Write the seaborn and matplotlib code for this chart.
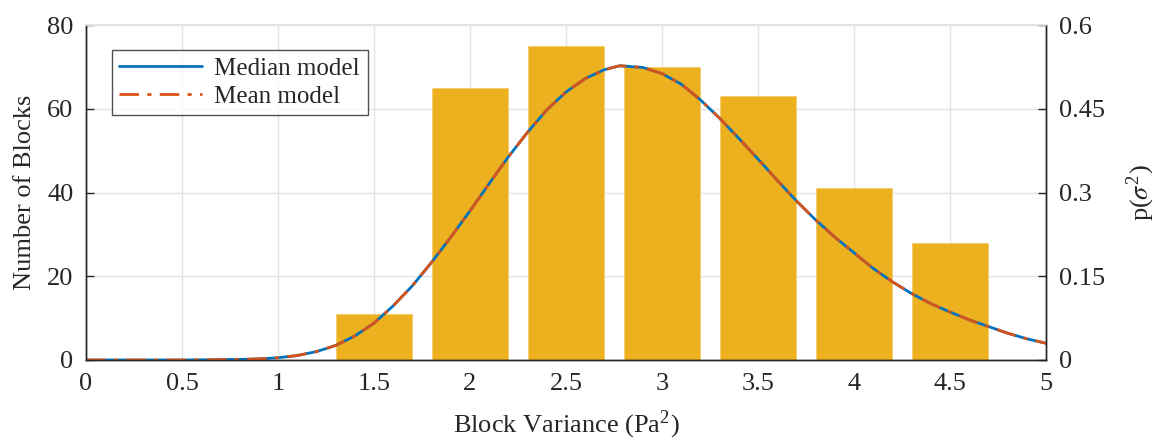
import matplotlib
matplotlib.use("Agg")
import matplotlib.pyplot as plt
import seaborn as sns
import pandas as pd

# Histogram data
bin_centers = [1.5, 2.0, 2.5, 3.0, 3.5, 4.0, 4.5]
block_counts = [11, 65, 75, 70, 63, 41, 28]

# Model curves
curve_x = [0.0, 0.5, 0.8, 0.9, 1.0, 1.1, 1.2, 1.3, 1.4, 1.5, 1.6, 1.7, 1.8, 1.9, 2.0,
           2.1, 2.2, 2.3, 2.4, 2.5, 2.6, 2.7, 2.78, 2.9, 3.0, 3.1, 3.2, 3.3,
           3.4, 3.5, 3.6, 3.7, 3.8, 3.9, 4.0, 4.1, 4.2, 4.3, 4.4, 4.5, 4.6,
           4.7, 4.8, 4.9, 5.0]
median_model = [0.0, 0.0, 0.001, 0.002, 0.004, 0.008, 0.015, 0.026, 0.043, 0.066, 0.097,
                0.133, 0.175, 0.220, 0.267, 0.316, 0.364, 0.408, 0.448, 0.480,
                0.504, 0.520, 0.527, 0.524, 0.513, 0.494, 0.466, 0.433, 0.397,
                0.360, 0.322, 0.285, 0.251, 0.220, 0.192, 0.164, 0.140, 0.119,
                0.101, 0.086, 0.072, 0.060, 0.048, 0.038, 0.030]
mean_model = list(median_model)

left_ticks = [0, 20, 40, 60, 80]
right_ticks = [0, 0.15, 0.3, 0.45, 0.6]
right_tick_labels = ["0", "0.15", "0.3", "0.45", "0.6"]
x_ticks = [0, 0.5, 1, 1.5, 2, 2.5, 3, 3.5, 4, 4.5, 5]
x_tick_labels = ["0", "0.5", "1", "1.5", "2", "2.5", "3", "3.5", "4", "4.5", "5"]

sns.set_theme(style="white")
plt.rcParams["font.family"] = ["Liberation Serif", "DejaVu Serif"]
plt.rcParams["mathtext.fontset"] = "stix"

FS = 19
fig = plt.figure(figsize=(11.57, 4.43), dpi=100)
ax = fig.add_axes([86 / 1157, 1 - 360 / 443, 960 / 1157, 335 / 443])

bars = pd.DataFrame({"x": bin_centers, "count": block_counts})
sns.barplot(data=bars, x="x", y="count", native_scale=True, width=0.8,
            color="#EDB120", saturation=1, edgecolor="#F3CC6A", linewidth=0.6,
            ax=ax, zorder=2)

ax.set_xlim(0, 5)
ax.set_ylim(0, 80)
ax.set_xticks(x_ticks)
ax.set_xticklabels(x_tick_labels)
ax.set_yticks(left_ticks)
ax.grid(True, color="#E3E3E3", linewidth=1.0, zorder=0)
ax.set_axisbelow(True)
ax.tick_params(axis="both", direction="in", length=6, width=1, labelsize=FS,
               colors="#262626", pad=9)
ax.tick_params(axis="x", top=False)
ax.set_xlabel("Block Variance (Pa$^{\\mathregular{2}}$)", fontsize=FS, color="#262626", labelpad=10)
ax.set_ylabel("Number of Blocks", fontsize=FS, color="#262626", labelpad=8)

ax2 = ax.twinx()
curves = pd.DataFrame({"x": curve_x, "median": median_model, "mean": mean_model})
sns.lineplot(data=curves, x="x", y="median", ax=ax2, color="#0072BD",
             linewidth=2.0, label="Median model")
sns.lineplot(data=curves, x="x", y="mean", ax=ax2, color="#D95319",
             linewidth=2.0, linestyle=(0, (7, 3, 1.5, 3)), label="Mean model")
ax2.set_ylim(0, 0.6)
ax2.set_yticks(right_ticks)
ax2.set_yticklabels(right_tick_labels)
ax2.tick_params(axis="y", direction="in", length=6, width=1, labelsize=FS,
                colors="#262626", pad=9)
ax2.set_ylabel(r"p($\sigma^{\mathregular{2}}$)", fontsize=FS, color="#262626", labelpad=14)
ax2.set_xlim(0, 5)

for a in (ax, ax2):
    for s in ("left", "right", "bottom"):
        a.spines[s].set_color("#262626")
        a.spines[s].set_linewidth(1.0)
    a.spines["top"].set_color("#E3E3E3")

leg = ax2.legend(loc="upper left", bbox_to_anchor=(0.027, 0.925), fontsize=18,
                 frameon=True, fancybox=False, edgecolor="#262626",
                 handlelength=3.3, borderpad=0.3, labelspacing=0.2,
                 handletextpad=0.5, borderaxespad=0)
leg.get_frame().set_linewidth(1.0)

fig.savefig("out.png", dpi=100)
